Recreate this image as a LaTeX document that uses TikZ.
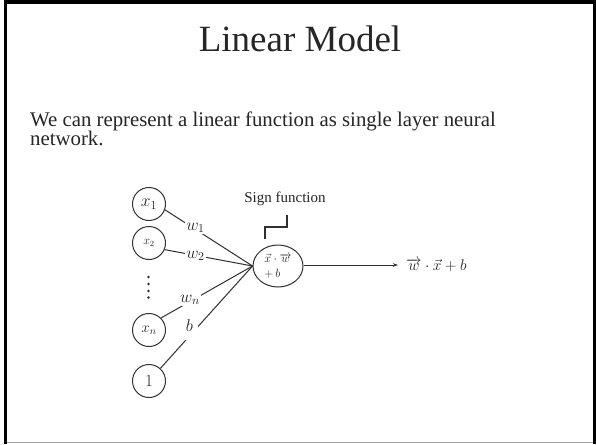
\RequirePackage{fix-cm}
\documentclass[tikz,border=0pt]{standalone}
\usepackage{fontspec}
\setmainfont{Liberation Serif}
\usetikzlibrary{shapes.geometric,arrows.meta}
\definecolor{ink}{HTML}{262626}
\definecolor{wirecol}{HTML}{303030}
\begin{document}
\begin{tikzpicture}[x=1pt,y=-1pt,
  unit/.style={circle,draw=wirecol,line width=1pt,minimum size=33pt,inner sep=0pt,text=ink},
  wlab/.style={fill=white,inner sep=1.5pt,text=ink,font=\fontsize{17}{17}\selectfont,anchor=base},
  link/.style={draw=wirecol,line width=1pt},
  bodytext/.style={anchor=base west,inner sep=0pt,text=ink,font=\fontsize{20.8}{19}\selectfont}]
\useasboundingbox (0,0) rectangle (596,444);
\fill[white] (0,0) rectangle (596,444);

% slide frame
\draw[gray!70,line width=1.5pt] (5.5,442.7) -- (595,442.7);
\draw[black,line width=3.5pt,miter limit=10] (5.5,444) -- (5.5,2) -- (595,2) -- (595,444);

% title and text
\node[anchor=base,inner sep=0pt,text=ink,font=\fontsize{37}{40}\selectfont] (title) at (300,52) {Linear Model};
\node[bodytext] (line1) at (30,126.5) {We can represent a linear function as single layer neural};
\node[bodytext] (line2) at (30,145.5) {network.};

% inputs
\node[unit,font=\fontsize{17.5}{17.5}\selectfont] (x1) at (149,204) {$x_1$};
\node[unit,font=\fontsize{12}{12}\selectfont] (x2) at (149,243) {$x_2$};
\node[unit,font=\fontsize{15}{15}\selectfont] (xn) at (149,330) {$x_n$};
\node[unit,font=\fontsize{17}{17}\selectfont] (one) at (149,381) {$1$};
\foreach \yy in {277,284,291,297.5}
  \fill[wirecol] (148.5,\yy) circle (1.3pt);

% summing unit
\node[ellipse,draw=wirecol,line width=1pt,minimum width=50pt,minimum height=42pt,inner sep=0pt,
      align=left,text=ink,font=\fontsize{12}{15}\selectfont] (sum) at (278,266)
  {$\vec{x}\cdot\overrightarrow{w}$\\$+\,b$};

% weighted connections
\draw[link] (x1.-20) -- (sum.west);
\draw[link] (x2.-23) -- (sum.west);
\draw[link] (xn.45) -- (sum.west);
\draw[link] (one.48) -- (sum.west);
\node[wlab] (w1) at (195.5,230) {$w_1$};
\node[wlab] (w2) at (195.5,258) {$w_2$};
\node[wlab] (wn) at (190,302) {$w_n$};
\node[wlab,inner xsep=5pt,text depth=7pt] (bb) at (189.5,331.5) {$b$};

% activation
\node[anchor=base,inner sep=0pt,text=ink,font=\fontsize{15}{15}\selectfont] (sign) at (285,202) {Sign function};
\draw[wirecol,line width=2.2pt] (265,239) -- (265,227) -- (287,227) -- (287,215);

% output
\node[anchor=west,inner xsep=8pt,inner ysep=0pt,text=ink,font=\fontsize{15.5}{15.5}\selectfont] (out) at (398,265)
  {$\overrightarrow{w}\cdot\vec{x}+b$};
\draw[link,-{Stealth[length=5pt,width=3.5pt]}] (sum.east |- out.west) -- (out.west);
\end{tikzpicture}
\end{document}
